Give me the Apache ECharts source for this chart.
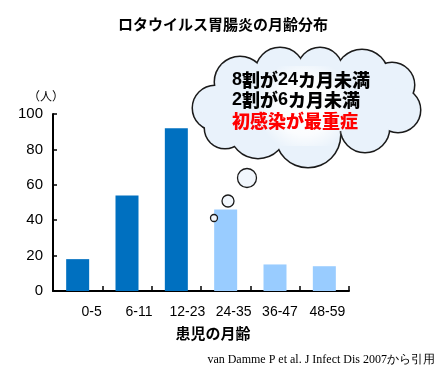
<!DOCTYPE html>
<html>
<head>
<meta charset="utf-8">
<script src="https://cdn.jsdelivr.net/npm/echarts@6/dist/echarts.min.js"></script>
<style>
html,body{margin:0;padding:0;background:#fff;}
#chart{width:441px;height:370px;}
</style>
</head>
<body>
<div id="chart"></div>
<script>
// ---- data ----
const categories = ['0-5', '6-11', '12-23', '24-35', '36-47', '48-59'];
const patients = [18, 54, 92, 46, 15, 14];
const yTicks = [0, 20, 40, 60, 80, 100];
const titleText = 'ロタウイルス胃腸炎の月齢分布';
const yUnit = '（人）';
const xName = '患児の月齢';
const cloudLines = ['8割が24カ月未満', '2割が6カ月未満', '初感染が最重症'];
const sourceText = 'van Damme P et al. J Infect Dis 2007から引用';

// ---- layout / style ----
const darkBlue = '#0070C0';
const lightBlue = '#99CCFF';
const darkCount = 3;
const labelShift = [14, 12, 11, 8, 5, 3];
const cjk = '"Noto Sans CJK JP", sans-serif';
const latin = '"Liberation Sans", Arial, sans-serif';

const rich = {};
labelShift.forEach((s, i) => {
  rich['s' + i] = { padding: [0, 0, 0, 2 * s], fontSize: 14, fontFamily: latin, color: '#000' };
});

// cloud shape
const cloudCircles = [
  [215, 108, 22], [240, 82, 25], [280, 72, 24], [320, 70, 22], [362, 76, 26],
  [392, 85, 22], [398, 110, 22], [365, 128, 24], [308, 135, 32], [258, 130, 28], [225, 128, 20]
];
const cloudFill = '#E9F2FB';
const stroke = '#1a1a1a';
const graphics = [];
cloudCircles.forEach(c => graphics.push({
  type: 'circle', shape: { cx: c[0], cy: c[1], r: c[2] },
  style: { fill: cloudFill, stroke: stroke, lineWidth: 3 }, z: 10
}));
cloudCircles.forEach(c => graphics.push({
  type: 'circle', shape: { cx: c[0], cy: c[1], r: c[2] },
  style: { fill: cloudFill, stroke: null, lineWidth: 0 }, z: 11
}));
graphics.push({
  type: 'polygon', shape: { points: cloudCircles.map(c => [c[0], c[1]]) },
  style: { fill: cloudFill, stroke: null, lineWidth: 0 }, z: 11
});
graphics.push({
  type: 'rect', shape: { x: 222, y: 66, width: 166, height: 80, r: 40 },
  style: { fill: { type: 'radial', x: 0.5, y: 0.5, r: 0.6,
    colorStops: [{ offset: 0, color: '#ffffff' }, { offset: 0.6, color: 'rgba(255,255,255,0.8)' }, { offset: 1, color: 'rgba(255,255,255,0)' }] } },
  z: 12
});
[[247, 178, 9.5], [228, 201, 6], [214, 218, 3.5]].forEach(c => graphics.push({
  type: 'circle', shape: { cx: c[0], cy: c[1], r: c[2] },
  style: { fill: '#F2F7FD', stroke: stroke, lineWidth: 1.3 }, z: 12
}));
const lineY = [80, 100, 121];
cloudLines.forEach((t, i) => {
  const col = i === 2 ? '#FF0000' : '#000';
  graphics.push({
    type: 'text', x: 232, y: lineY[i],
    style: {
      text: t.replace(/(\d+)/g, '{d|$1}'),
      fill: col, fontSize: 18, fontWeight: 900, fontFamily: cjk,
      verticalAlign: 'middle', align: 'left',
      rich: { d: { fill: col, fontSize: 18, fontWeight: 'bold', fontFamily: latin } }
    },
    z: 13
  });
});
graphics.push({
  type: 'text', x: 223, y: 24,
  style: { text: titleText, fill: '#000', font: 'bold 15px ' + cjk, align: 'center', verticalAlign: 'middle' }
});
graphics.push({
  type: 'text', x: 213, y: 333,
  style: { text: xName, fill: '#000', font: 'bold 15px ' + cjk, align: 'center', verticalAlign: 'middle' }
});
graphics.push({
  type: 'text', x: 435, y: 360,
  style: { text: sourceText, fill: '#000', font: '12px "Liberation Serif", "DejaVu Serif", serif', align: 'right', verticalAlign: 'middle' }
});

const chart = echarts.init(document.getElementById('chart'), null, { renderer: 'canvas' });
chart.setOption({
  animation: false,
  backgroundColor: '#fff',
  grid: { left: 53, right: 92, top: 114, bottom: 79 },
  xAxis: {
    type: 'category',
    data: categories,
    axisLine: { lineStyle: { color: '#000', width: 2 } },
    axisTick: { show: true, inside: true, length: 5, lineStyle: { color: '#000', width: 1.5 } },
    axisLabel: {
      interval: 0,
      margin: 14,
      formatter: (v, i) => '{s' + i + '|' + v + '}',
      rich: rich
    }
  },
  yAxis: {
    type: 'value',
    min: yTicks[0], max: yTicks[yTicks.length - 1], interval: yTicks[1] - yTicks[0],
    name: yUnit,
    nameLocation: 'end',
    nameGap: 12,
    nameTextStyle: { color: '#000', fontSize: 12, fontFamily: cjk, padding: [0, 14, 0, 0] },
    axisLine: { show: true, lineStyle: { color: '#000', width: 2 } },
    axisTick: { show: true, inside: true, length: 4, lineStyle: { color: '#000', width: 1.5 } },
    axisLabel: { margin: 10, fontSize: 15, fontFamily: latin, color: '#000' },
    splitLine: { show: false }
  },
  series: [{
    type: 'bar',
    data: patients,
    barWidth: 23,
    itemStyle: { color: p => p.dataIndex < darkCount ? darkBlue : lightBlue },
    z: 2
  }],
  graphic: graphics
});
</script>
</body>
</html>
